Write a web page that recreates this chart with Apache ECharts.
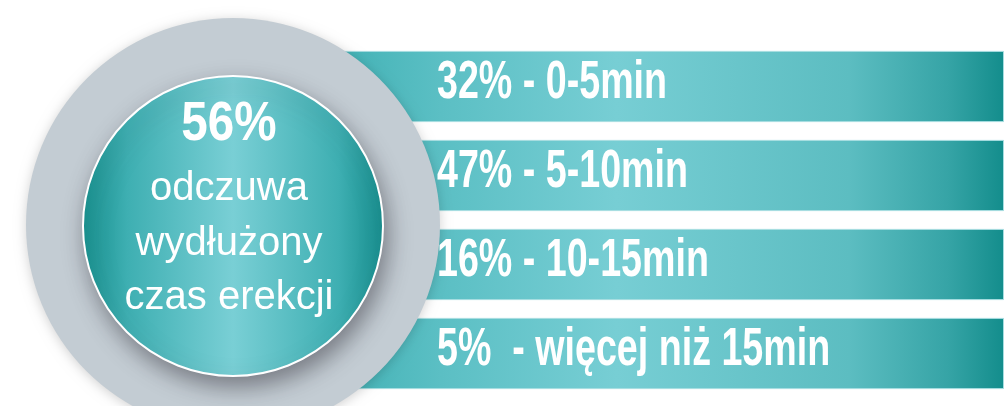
<!DOCTYPE html>
<html>
<head>
<meta charset="utf-8">
<script src="https://cdn.jsdelivr.net/npm/echarts@6/dist/echarts.min.js"></script>
<style>
html,body{margin:0;padding:0;background:#ffffff;}
#chart{width:1004px;height:406px;}
</style>
</head>
<body>
<div id="chart"></div>
<script>
// ---- data ----
const durationCategories = ['0-5min', '5-10min', '10-15min', 'więcej niż 15min'];
const durationPercents = [32, 47, 16, 5];
const bandSpan = [100, 100, 100, 100];           // every band runs full width
const headlinePercent = [56];
const headlineLines = ['odczuwa', 'wydłużony', 'czas erekcji'];

const chart = echarts.init(document.getElementById('chart'), null, {renderer: 'canvas'});

const regular = "'Liberation Sans',Arial,sans-serif";

const bandGradient = new echarts.graphic.LinearGradient(0, 0, 1, 0, [
  {offset: 0, color: '#3aaeb1'},
  {offset: 0.2, color: '#5bbfc4'},
  {offset: 0.45, color: '#77ced4'},
  {offset: 0.78, color: '#5cbdc1'},
  {offset: 0.92, color: '#36a4a6'},
  {offset: 1, color: '#138d8c'}
]);

const innerGradient = new echarts.graphic.LinearGradient(0, 0, 1, 0, [
  {offset: 0, color: '#17918f'},
  {offset: 0.15, color: '#3eafb2'},
  {offset: 0.5, color: '#79cfd5'},
  {offset: 0.85, color: '#3eafb2'},
  {offset: 1, color: '#168e8e'}
]);

function bandLabel(i) {
  return (durationPercents[i] + '%').padEnd(4, ' ') + '- ' + durationCategories[i];
}

const option = {
  animation: false,
  backgroundColor: '#ffffff',
  grid: {left: 300, right: 0, top: 42, bottom: 8},
  xAxis: {type: 'value', min: 0, max: 100, show: false},
  yAxis: {type: 'category', inverse: true, data: durationCategories, show: false},
  series: [
    {
      type: 'bar',
      z: 1,
      data: bandSpan,
      barCategoryGap: '20%',
      silent: true,
      itemStyle: {color: bandGradient, borderColor: '#a6dde0', borderWidth: 1},
      label: {show: false}
    },
    {
      type: 'pie',
      z: 3,
      silent: true,
      center: [233, 225],
      radius: [0, 207],
      label: {show: false},
      labelLine: {show: false},
      itemStyle: {color: '#c3ccd3', shadowBlur: 12, shadowColor: 'rgba(0,0,0,0.18)', shadowOffsetY: 2},
      data: headlinePercent.map(v => ({value: v}))
    },
    {
      type: 'pie',
      z: 4,
      silent: true,
      center: [233, 226],
      radius: [0, 150],
      itemStyle: {
        color: innerGradient,
        borderColor: '#ffffff',
        borderWidth: 2,
        shadowBlur: 22,
        shadowColor: 'rgba(60,60,70,0.55)',
        shadowOffsetX: 4,
        shadowOffsetY: 10
      },
      labelLine: {show: false},
      label: {show: false},
      data: headlinePercent.map(v => ({value: v}))
    },
    {
      // condensed band labels, anchored on the category axis
      type: 'custom',
      z: 6,
      silent: true,
      coordinateSystem: 'cartesian2d',
      data: durationPercents.map((v, i) => [0, i, v]),
      encode: {x: 0, y: 1},
      renderItem: function (params, api) {
        const pt = api.coord([0, api.value(1)]);
        return {
          type: 'text',
          x: pt[0] + 137,
          y: pt[1] - 3,
          scaleX: 0.71,
          style: {
            text: bandLabel(params.dataIndex),
            fill: '#ffffff',
            font: "bold 53px 'Liberation Sans', Arial, sans-serif",
            align: 'left',
            verticalAlign: 'middle'
          }
        };
      }
    },
    {
      // headline text in the centre circle
      type: 'custom',
      z: 6,
      silent: true,
      coordinateSystem: 'none',
      data: headlinePercent,
      renderItem: function (params, api) {
        const cx = 229;
        const children = [{
          type: 'text',
          x: cx,
          y: 125,
          scaleX: 0.85,
          style: {
            text: api.value(0) + '%',
            fill: '#ffffff',
            font: "bold 56px 'Liberation Sans', Arial, sans-serif",
            align: 'center',
            verticalAlign: 'middle'
          }
        }];
        headlineLines.forEach((t, k) => {
          children.push({
            type: 'text',
            x: cx,
            y: 189 + k * 54.5,
            style: {
              text: t,
              fill: '#ffffff',
              font: "40px 'Liberation Sans', Arial, sans-serif",
              align: 'center',
              verticalAlign: 'middle'
            }
          });
        });
        return {type: 'group', children: children};
      }
    }
  ]
};
chart.setOption(option);
</script>
</body>
</html>
